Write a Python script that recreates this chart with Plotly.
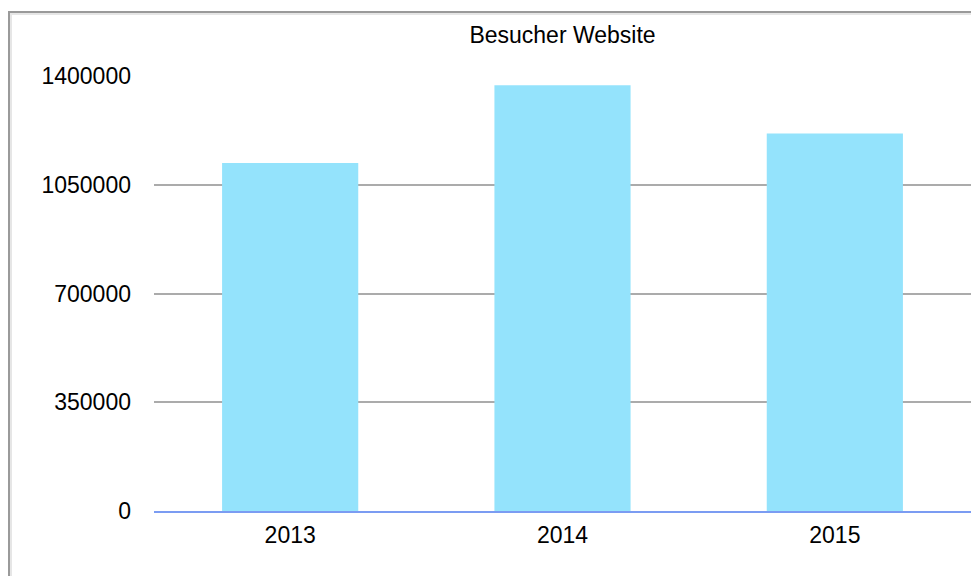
import plotly.graph_objects as go

years = ["2013", "2014", "2015"]
visitors = [1120000, 1370000, 1215000]
y_ticks = [0, 350000, 700000, 1050000, 1400000]
y_tick_labels = ["0", "350000", "700000", "1050000", "1400000"]
title_text = "Besucher Website"

W, H = 971, 576
ML, MR, MT, MB = 154, 0, 76, 65
pw = W - ML - MR
ph = H - MT - MB

def px_x(x):
    return (x - ML) / pw

def px_y(y):
    return (H - MB - y) / ph

fig = go.Figure(go.Bar(
    x=years, y=visitors,
    marker=dict(color="#94E3FC", line=dict(width=0)),
    hoverinfo="x+y",
))

shapes = []
# frame (top and left edges with soft shadow)
shapes.append(dict(type="line", xref="paper", yref="paper",
                   x0=px_x(9), x1=px_x(W + 5), y0=px_y(12), y1=px_y(12),
                   line=dict(color="#9a9a9a", width=2)))
shapes.append(dict(type="line", xref="paper", yref="paper",
                   x0=px_x(9), x1=px_x(9), y0=px_y(11), y1=px_y(H + 5),
                   line=dict(color="#9a9a9a", width=2)))
shapes.append(dict(type="line", xref="paper", yref="paper",
                   x0=px_x(10), x1=px_x(W + 5), y0=px_y(14), y1=px_y(14),
                   line=dict(color="#e6e6e6", width=2)))
shapes.append(dict(type="line", xref="paper", yref="paper",
                   x0=px_x(11), x1=px_x(11), y0=px_y(13), y1=px_y(H + 5),
                   line=dict(color="#e6e6e6", width=2)))

fig.update_layout(
    width=W, height=H,
    margin=dict(l=ML, r=MR, t=MT, b=MB, pad=0),
    paper_bgcolor="white", plot_bgcolor="white",
    font=dict(family="Liberation Sans, Arial, Helvetica, sans-serif", size=23, color="#000000"),
    title=dict(text=title_text, x=px_x((ML + W) / 2), xref="paper", xanchor="center",
               y=1 - 35 / H, yanchor="middle",
               font=dict(size=23, color="#000000")),
    bargap=0.5,
    showlegend=False,
    shapes=shapes,
    xaxis=dict(
        type="category",
        showgrid=False, zeroline=False,
        showline=True, linecolor="#7b9cf2", linewidth=2,
        ticks="", ticklabelstandoff=2,
        tickfont=dict(size=23, color="#000000"),
        fixedrange=True,
    ),
    yaxis=dict(
        range=[0, 1400000],
        tickmode="array", tickvals=y_ticks, ticktext=y_tick_labels,
        showgrid=True, gridcolor="#ababab", gridwidth=2,
        zeroline=False, showline=False,
        ticks="", ticklabelstandoff=22,
        tickfont=dict(size=23, color="#000000"),
        fixedrange=True,
    ),
)

fig.write_html(
    "out.html",
    config={"displayModeBar": False},
    post_script="document.body.style.margin='0';document.body.style.overflow='hidden';",
)
